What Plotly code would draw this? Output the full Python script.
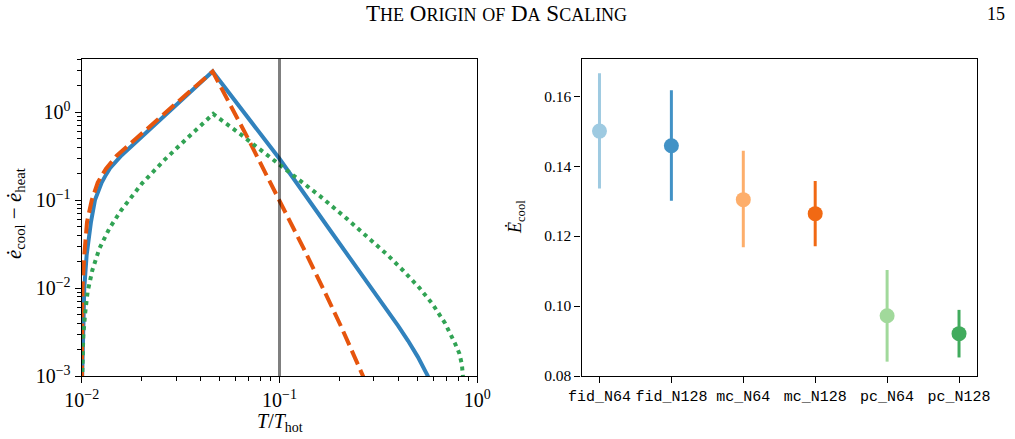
import numpy as np
import plotly.graph_objects as go

W, H = 1015, 439

# ---------------- left panel: read-off values (log10 T/T_hot , log10 rate) ----------------
blue_logT = [-1.998, -1.992, -1.987, -1.975, -1.953, -1.933, -1.899, -1.877, -1.857, -1.798,
             -1.697, -1.600, -1.500, -1.400, -1.338,
             -1.166, -1.000, -0.745, -0.542, -0.492, -0.400, -0.350, -0.300, -0.250, -0.245]
blue_logE = [-3.05, -2.383, -2.003, -1.625, -1.247, -1.000, -0.801, -0.710, -0.636, -0.489,
             -0.284, -0.082, 0.126, 0.334, 0.462,
             -0.050, -0.530, -1.340, -1.975, -2.136, -2.430, -2.600, -2.785, -3.000, -3.03]

orange_logT = [-1.999, -1.996, -1.987, -1.973, -1.949, -1.919, -1.900, -1.877, -1.823, -1.722,
               -1.621, -1.515, -1.419, -1.338,
               -1.166, -1.000, -0.880, -0.770, -0.686, -0.574]
orange_logE = [-3.05, -2.000, -1.625, -1.247, -1.000, -0.801, -0.725, -0.642, -0.494, -0.290,
               -0.092, 0.116, 0.304, 0.462,
               -0.270, -1.000, -1.540, -2.050, -2.450, -3.02]

green_logT = [-1.998, -1.997, -1.992, -1.983, -1.970, -1.946, -1.911, -1.860, -1.800, -1.695,
              -1.579, -1.456, -1.335,
              -1.196, -1.062, -0.925, -0.795, -0.660, -0.534, -0.453, -0.374, -0.295,
              -0.227, -0.163, -0.113, -0.091, -0.078, -0.072]
green_logE = [-3.05, -2.924, -2.545, -2.295, -2.042, -1.795, -1.553, -1.321, -1.114, -0.810,
              -0.537, -0.273, -0.020,
              -0.253, -0.489, -0.724, -0.955, -1.210, -1.455, -1.625, -1.803, -1.992,
              -2.180, -2.400, -2.628, -2.742, -2.867, -3.02]

ref_T = 0.1
left_x_range_log = [-2, 0]
left_y_range_log = [-3, 0.605]

# ---------------- right panel data ----------------
runs = ["fid_N64", "fid_N128", "mc_N64", "mc_N128", "pc_N64", "pc_N128"]
E_cool = [0.1500, 0.1458, 0.1304, 0.1264, 0.0972, 0.0921]
E_low = [0.1336, 0.1301, 0.1168, 0.1171, 0.0841, 0.0853]
E_high = [0.1665, 0.1617, 0.1444, 0.1357, 0.1103, 0.0989]
run_colors = ["#9ecae1", "#4292c6", "#fdae6b", "#f16913", "#a1d99b", "#41ab5d"]
right_y_ticks = [0.08, 0.10, 0.12, 0.14, 0.16]

SERIF = "Liberation Serif"
MONO = "Liberation Mono"

fig = go.Figure()

def tolin(a):
    return np.power(10.0, np.array(a))

fig.add_trace(go.Scatter(x=tolin(blue_logT), y=tolin(blue_logE), mode="lines",
                         line=dict(color="#3182bd", width=4), xaxis="x", yaxis="y"))
fig.add_trace(go.Scatter(x=tolin(orange_logT), y=tolin(orange_logE), mode="lines",
                         line=dict(color="#e6550d", width=4, dash="15px,6px"), xaxis="x", yaxis="y"))
fig.add_trace(go.Scatter(x=tolin(green_logT), y=tolin(green_logE), mode="lines",
                         line=dict(color="#31a354", width=4, dash="4px,4.4px"), xaxis="x", yaxis="y"))
fig.add_trace(go.Scatter(x=[ref_T, ref_T], y=[10 ** left_y_range_log[0], 10 ** left_y_range_log[1]],
                         mode="lines", line=dict(color="rgba(0,0,0,0.5)", width=3),
                         xaxis="x", yaxis="y"))

for r, e, lo, hi, c in zip(runs, E_cool, E_low, E_high, run_colors):
    fig.add_trace(go.Scatter(
        x=[r], y=[e], mode="markers", xaxis="x2", yaxis="y2",
        marker=dict(color=c, size=15, line=dict(width=0)),
        error_y=dict(type="data", symmetric=False, array=[hi - e], arrayminus=[e - lo],
                     thickness=3, width=0, color=c)))

# minor ticks
x_minor = [k * 10.0 ** n for n in (-2, -1) for k in range(2, 10)]
y_minor = [k * 10.0 ** n for n in (-3, -2, -1) for k in range(2, 10)] + [2, 3, 4]

ydom = [(H - 376) / H, (H - 59) / H]
axis_common = dict(showline=True, linecolor="black", linewidth=1.3, mirror=True,
                   ticks="outside", tickcolor="black", tickwidth=1, ticklen=6,
                   showgrid=False, zeroline=False, automargin=False)

fig.update_layout(
    width=W, height=H, margin=dict(l=0, r=0, t=0, b=0, pad=0, autoexpand=False),
    paper_bgcolor="white", plot_bgcolor="white", showlegend=False,
    xaxis=dict(type="log", range=left_x_range_log, domain=[81.7 / W, 477.3 / W], anchor="y",
               tickvals=[0.01, 0.1, 1], ticktext=["10<sup>−2</sup>", "10<sup>−1</sup>", "10<sup>0</sup>"],
               tickfont=dict(family=SERIF, size=20, color="black"),
               minor=dict(ticks="outside", ticklen=3.5, tickwidth=0.8, tickcolor="black",
                          tickmode="array", tickvals=x_minor, showgrid=False),
               **axis_common),
    yaxis=dict(type="log", range=left_y_range_log, domain=ydom, anchor="x",
               tickvals=[1e-3, 1e-2, 1e-1, 1],
               ticktext=["10<sup>−3</sup>", "10<sup>−2</sup>", "10<sup>−1</sup>", "10<sup>0</sup>"],
               tickfont=dict(family=SERIF, size=20, color="black"),
               minor=dict(ticks="outside", ticklen=3.5, tickwidth=0.8, tickcolor="black",
                          tickmode="array", tickvals=y_minor, showgrid=False),
               **axis_common),
    xaxis2=dict(type="category", categoryorder="array", categoryarray=runs,
                range=[-0.25, len(runs) - 0.75], domain=[581.5 / W, 977 / W], anchor="y2",
                tickfont=dict(family=MONO, size=15, color="black"), **axis_common),
    yaxis2=dict(range=[0.08, 0.1706], domain=ydom, anchor="x2",
                tickvals=right_y_ticks, ticktext=[f"{v:.2f}" for v in right_y_ticks],
                tickfont=dict(family=SERIF, size=15.5, color="black"), **axis_common),
)

def smallcaps(text, big, small):
    out = []
    for word in text.split(" "):
        first, rest = word[0], word[1:]
        if first.isupper():
            piece = first
        else:
            piece = f'<span style="font-size:{small}px">{first.upper()}</span>'
        if rest:
            piece += f'<span style="font-size:{small}px">{rest.upper()}</span>'
        out.append(piece)
    return " ".join(out)

ann = [
    dict(text=smallcaps("The Origin of Da Scaling", 23, 18), x=496 / W, y=1 - 14 / H,
         font=dict(family=SERIF, size=23, color="black")),
    dict(text="15", x=996 / W, y=1 - 14 / H, font=dict(family=SERIF, size=18, color="black")),
    dict(text="<i>T</i>/<i>T</i><sub>hot</sub>", x=279.5 / W, y=1 - 422 / H,
         font=dict(family=SERIF, size=20, color="black")),
    dict(text="<i>ė</i><sub>cool</sub> − <i>ė</i><sub>heat</sub>", x=15 / W, y=1 - 214 / H,
         textangle=-90, font=dict(family=SERIF, size=21, color="black")),
    dict(text="<i>Ė</i><sub>cool</sub>", x=516 / W, y=1 - 217 / H,
         textangle=-90, font=dict(family=SERIF, size=18, color="black")),
]
for a in ann:
    a.update(xref="paper", yref="paper", showarrow=False, xanchor="center", yanchor="middle")
fig.update_layout(annotations=ann)

fig.write_html("out.html")
